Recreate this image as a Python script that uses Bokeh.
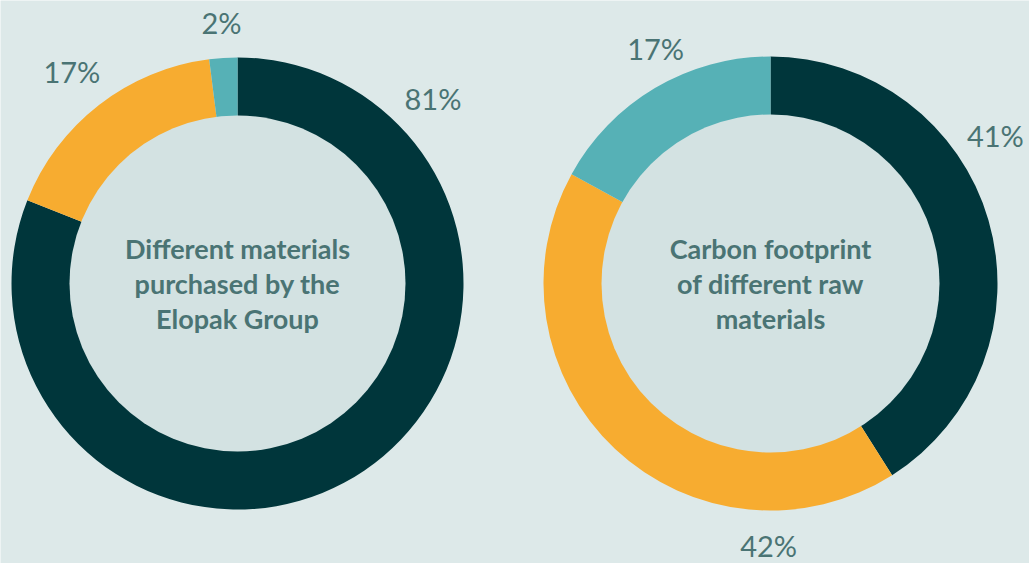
import math
import numpy as np
from bokeh.plotting import figure
from bokeh.models import Range1d, ColumnDataSource
from bokeh.core.properties import value
from bokeh.embed import file_html
from bokeh.resources import INLINE

# ---- data ----
left_title = ["Different materials", "purchased by the", "Elopak Group"]
left_names = ["Material A", "Material B", "Material C"]
left_values = [81, 17, 2]

right_title = ["Carbon footprint", "of different raw", "materials"]
right_names = ["Material A", "Material B", "Material C"]
right_values = [41, 42, 17]

colors = ["#00363b", "#f7ac30", "#56b1b6"]

# ---- layout (pixels, y measured from top) ----
W, H = 1029, 563
BG = "#dde9e9"
INNER = "#d3e2e2"
TXT = "#4a7474"
FONT = "Lato"

donuts = [
    dict(cx=237, cy=283, r_out=226, r_in=168, values=left_values, title=left_title,
         label_ang=[46.6, 322.0, 356.5], label_r=[269, 269, 261]),
    dict(cx=770, cy=283, r_out=227, r_in=169, values=right_values, title=right_title,
         label_ang=[56.7, 180.4, 334.0], label_r=[269, 262, 262]),
]

p = figure(width=W, height=H, output_backend="svg", toolbar_location=None,
           x_range=Range1d(0, W), y_range=Range1d(0, H),
           min_border=0, background_fill_color=BG, border_fill_color=BG)
p.axis.visible = False
p.grid.visible = False
p.outline_line_color = None

for d in donuts:
    vals = np.array(d["values"], dtype=float)
    frac = vals / vals.sum()
    cum = np.concatenate([[0], np.cumsum(frac)])
    start = math.pi / 2 - 2 * math.pi * cum[:-1]
    end = math.pi / 2 - 2 * math.pi * cum[1:]
    cy = H - d["cy"]
    src = ColumnDataSource(dict(x=[d["cx"]] * len(vals), y=[cy] * len(vals),
                                s=start, e=end, c=colors[:len(vals)]))
    p.annular_wedge(x="x", y="y", inner_radius=d["r_in"] - 1, outer_radius=d["r_out"],
                    start_angle="s", end_angle="e", direction="clock",
                    fill_color="c", line_color=None, source=src)
    p.circle(x=[d["cx"]], y=[cy], radius=d["r_in"], fill_color=INNER, line_color=None)

    # percentage labels
    lx, ly, lt = [], [], []
    for v, a, r in zip(d["values"], d["label_ang"], d["label_r"]):
        rad = math.radians(a)
        lx.append(d["cx"] + r * math.sin(rad))
        ly.append(cy + r * math.cos(rad))
        lt.append(f"{v}%")
    p.text(x=lx, y=ly, text=lt, text_align="center", text_baseline="middle",
           text_font=value(FONT), text_font_size="29px", text_color=TXT)

    # centre title
    n = len(d["title"])
    ty = [cy - (i - (n - 1) / 2) * 35 for i in range(n)]
    p.text(x=[d["cx"]] * n, y=ty, text=d["title"], text_align="center",
           text_baseline="middle", text_font=value(FONT), text_font_size="27px",
           text_font_style="bold", text_color=TXT)

open("out.html", "w").write(file_html(p, INLINE))
